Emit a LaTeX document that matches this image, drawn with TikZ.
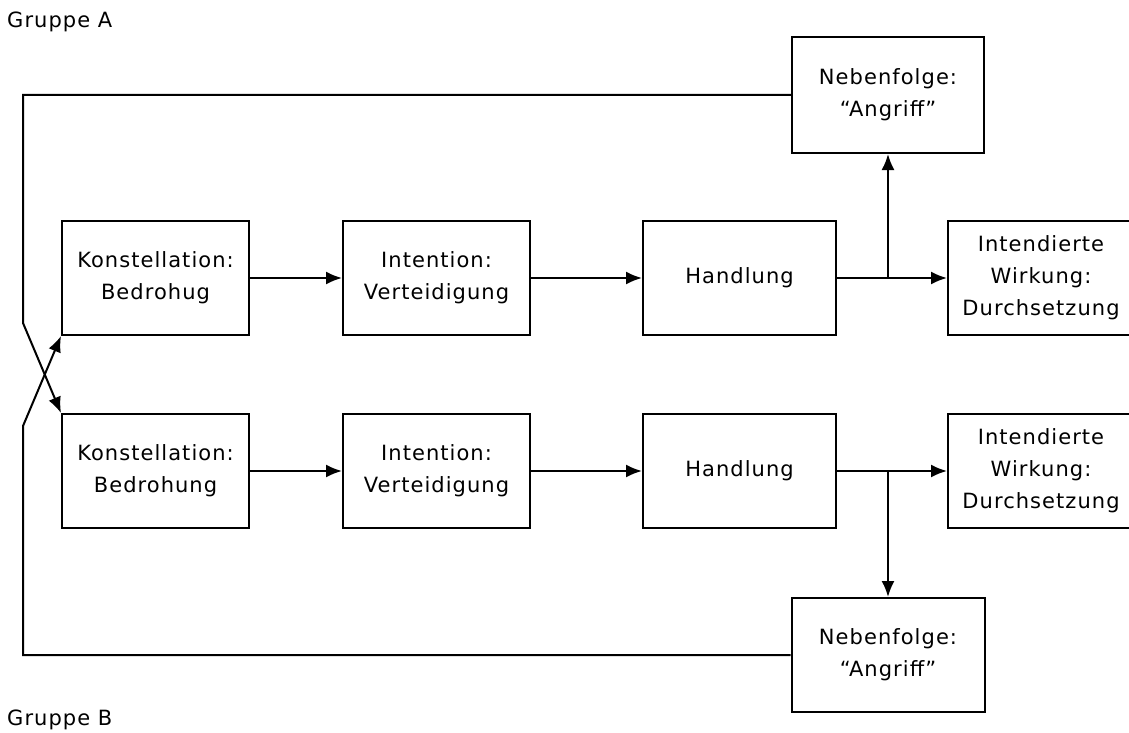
\documentclass[tikz,border=0pt]{standalone}
\usepackage{fontspec}
\setmainfont{DejaVu Sans}[LetterSpace=5]
\usetikzlibrary{arrows.meta}
\usetikzlibrary{positioning}
\usetikzlibrary{math}
\tikzstyle{box} = [rectangle, draw=black, line width=2pt, minimum width=187pt, minimum height=114pt, inner sep=0pt, align=center, font=\fontsize{21}{32}\selectfont]
\tikzstyle{grouplabel} = [anchor=west, inner sep=0pt, font=\fontsize{21}{24}\selectfont]
\tikzstyle{arrow} = [->, line width=2pt, >={Latex[length=16pt,width=13pt]}]

\begin{document}
\begin{tikzpicture}[x=1pt, y=-1pt]

  \tikzmath{\ya = 278; \yb = 471; \xl = 23;}

  \useasboundingbox (0,0) rectangle (1129,733);

  % Gruppe A
  \node[grouplabel] (gA) at (7,22) {Gruppe A};
  \node[box] (kA) at (155.5,\ya) {Konstellation:\\Bedrohug};
  \node[box, right=92pt of kA] (iA) {Intention:\\Verteidigung};
  \node[box, minimum width=193pt, right=111pt of iA] (hA) {Handlung};
  \node[box, minimum width=186pt, right=110pt of hA] (wA) {Intendierte\\Wirkung:\\Durchsetzung};
  \node[box, minimum width=192pt, minimum height=116pt] (nA) at (888,95) {Nebenfolge:\\``Angriff''};

  \draw[arrow] (kA) -- (iA);
  \draw[arrow] (iA) -- (hA);
  \draw[arrow] (hA) -- (wA);
  \coordinate (bA) at (nA.south |- hA.east);
  \draw[arrow] (bA) -- (nA);

  % Gruppe B
  \node[grouplabel] (gB) at (7,720) {Gruppe B};
  \node[box] (kB) at (155.5,\yb) {Konstellation:\\Bedrohung};
  \node[box, right=92pt of kB] (iB) {Intention:\\Verteidigung};
  \node[box, minimum width=193pt, right=111pt of iB] (hB) {Handlung};
  \node[box, minimum width=186pt, right=110pt of hB] (wB) {Intendierte\\Wirkung:\\Durchsetzung};
  \node[box, minimum width=193pt] (nB) at (888,655) {Nebenfolge:\\``Angriff''};

  \draw[arrow] (kB) -- (iB);
  \draw[arrow] (iB) -- (hB);
  \draw[arrow] (hB) -- (wB);
  \coordinate (bB) at (nB.north |- hB.east);
  \draw[arrow] (bB) -- (nB);

  % Rueckkopplung (Kreuzung links)
  \coordinate (xA) at (\xl,323);
  \coordinate (xB) at (\xl,426);
  \draw[arrow] (nA.west) -| (xA) -- (kB.north west);
  \draw[arrow] (nB.west) -| (xB) -- (kA.south west);

\end{tikzpicture}
\end{document}
